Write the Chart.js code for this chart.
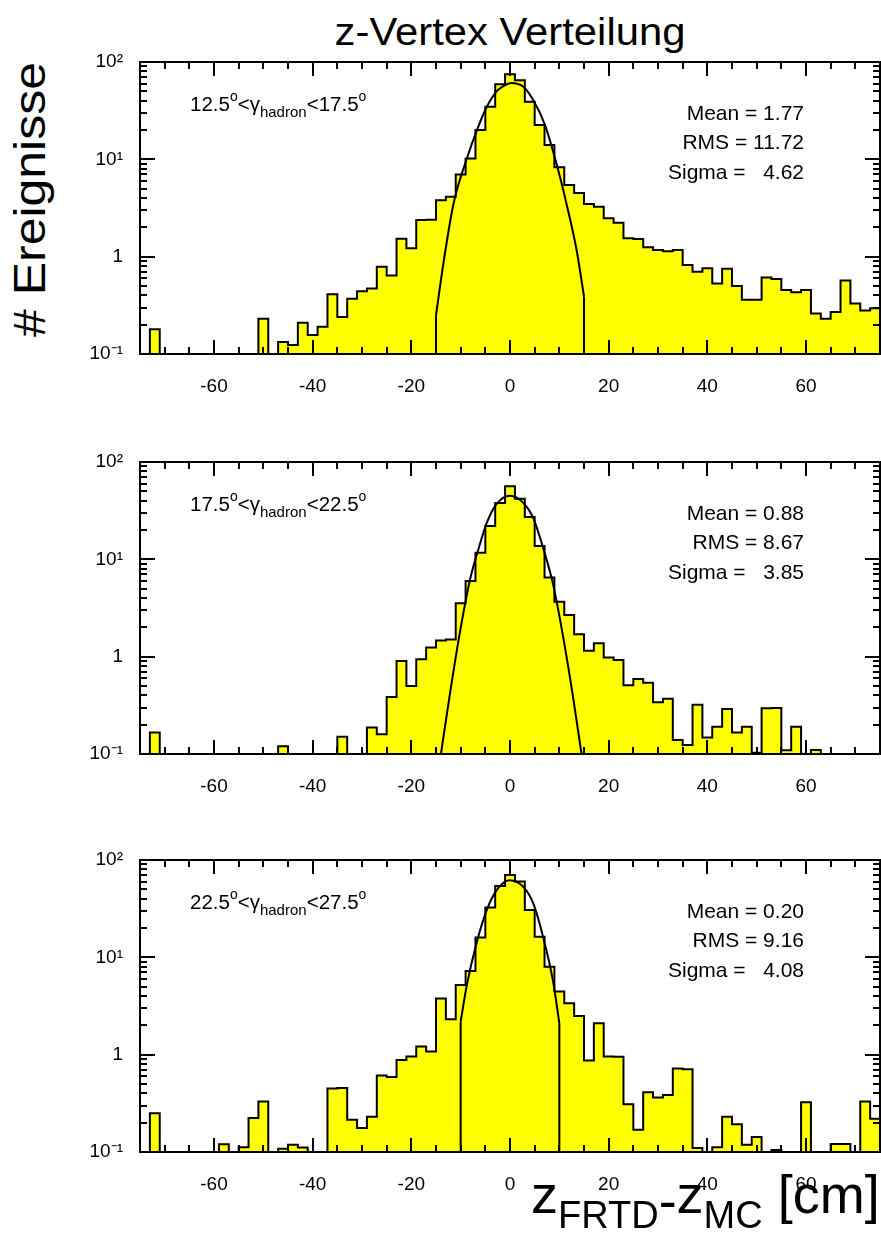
<!DOCTYPE html>
<html>
<head>
<meta charset="utf-8">
<script src="https://cdn.jsdelivr.net/npm/chart.js@4.4.1/dist/chart.umd.min.js"></script>
<style>
  body { margin: 0; width: 881px; height: 1240px; position: relative; overflow: hidden; background: #fff; color: #000;
         font-family: "Liberation Sans", Arial, Helvetica, sans-serif; }
  .panel { position: absolute; left: 0; width: 881px; height: 400px; }
  .panel canvas { position: absolute; left: 0; top: 0; }
  .note { position: absolute; left: 190px; top: 94.3px; font-size: 20.5px; line-height: 20.5px; white-space: nowrap; }
  .stats { position: absolute; right: 77px; top: 98px; font-size: 21px; line-height: 29.3px; text-align: right; white-space: pre; }
  .sp { position: relative; top: -10px; font-size: 14px; }
  .sb2 { position: relative; top: 6px; font-size: 15px; }
  #title { position: absolute; left: 310px; top: 12.8px; width: 400px; font-size: 38px; line-height: 38px; text-align: center;
           transform: scaleX(1.1); white-space: nowrap; }
  #ytitle { position: absolute; left: -170.6px; top: 176.5px; width: 400px; height: 45px; font-size: 45px; line-height: 45px;
            text-align: center; white-space: nowrap; transform: rotate(-90deg) scaleX(1.11); }
  #xtitle { position: absolute; left: 531px; top: 1167.3px; font-size: 54px; line-height: 54px; white-space: pre; }
  #xtitle .sb { position: relative; top: 15px; font-size: 38px; }
  #xtitle .dash { position: relative; top: 6px; }
</style>
</head>
<body>
<div id="title">z-Vertex Verteilung</div>
<div id="ytitle"># Ereignisse</div>

<div class="panel" style="top:0px">
  <canvas id="c1" width="881" height="400"></canvas>
  <div class="note">12.5<span class="sp">o</span>&lt;γ<span class="sb2">hadron</span>&lt;17.5<span class="sp">o</span></div>
  <div class="stats">Mean = 1.77
RMS = 11.72
Sigma =   4.62</div>
</div>

<div class="panel" style="top:400px">
  <canvas id="c2" width="881" height="400"></canvas>
  <div class="note">17.5<span class="sp">o</span>&lt;γ<span class="sb2">hadron</span>&lt;22.5<span class="sp">o</span></div>
  <div class="stats">Mean = 0.88
RMS = 8.67
Sigma =   3.85</div>
</div>

<div class="panel" style="top:798px">
  <canvas id="c3" width="881" height="400"></canvas>
  <div class="note">22.5<span class="sp">o</span>&lt;γ<span class="sb2">hadron</span>&lt;27.5<span class="sp">o</span></div>
  <div class="stats">Mean = 0.20
RMS = 9.16
Sigma =   4.08</div>
</div>

<div id="xtitle">z<span class="sb">FRTD</span><span class="dash">-</span>z<span class="sb">MC</span> [cm]</div>

<script>
// Histogramm: 75 Bins zu je 2 cm, von -75 bis 75
const X_MIN = -75;
const X_MAX = 75;
const BIN_W = 2;
const Y_MIN = 0.1;
const Y_MAX = 100;

// Achsenbeschriftungen
const X_TICKS = [-60, -40, -20, 0, 20, 40, 60];
const Y_TICKS = [0.1, 1, 10, 100];
const Y_TICK_LABELS = ['10⁻¹', '1', '10¹', '10²'];

// 12.5° < gamma < 17.5°
const H1 = [
  0, 0.18, 0, 0, 0, 0, 0, 0, 0, 0,
  0, 0, 0.23, 0, 0.133, 0.124, 0.21, 0.157, 0.19, 0.41,
  0.24, 0.37, 0.44, 0.47, 0.79, 0.64, 1.53, 1.22, 2.38, 2.4,
  3.8, 4.13, 7.0, 10.2, 20, 34.7, 59, 75, 65, 39,
  22.5, 14, 8.3, 5.45, 4.5, 3.47, 3.26, 2.48, 2.23, 1.55,
  1.52, 1.25, 1.17, 1.14, 1.17, 0.82, 0.70, 0.76, 0.53, 0.75,
  0.50, 0.36, 0.36, 0.61, 0.59, 0.455, 0.43, 0.455, 0.26, 0.23,
  0.27, 0.57, 0.33, 0.28, 0.295
];
const FIT1_X = [-15, -13.5, -11.45, -8.75, -6.7, -4.7, -2.7, -1.35, 0.3, 2.7, 4.7, 7.1, 9.4, 11.45, 13.5, 15];
const FIT1_Y = [0.25, 0.855, 3.5, 10.2, 20, 34.7, 50, 56.6, 61, 55.6, 40.6, 22.5, 9.1, 3.5, 1.17, 0.39];

// 17.5° < gamma < 22.5°
const H2 = [
  0, 0.166, 0, 0, 0, 0, 0, 0, 0, 0,
  0, 0, 0, 0, 0.12, 0, 0, 0, 0, 0,
  0.15, 0, 0, 0.187, 0.16, 0.385, 0.90, 0.50, 0.94, 1.24,
  1.47, 1.5, 3.53, 6.0, 11.7, 22, 38, 56.5, 41.9, 27.2,
  13.7, 6.5, 3.67, 2.68, 1.70, 1.15, 1.37, 0.98, 0.925, 0.51,
  0.59, 0.54, 0.34, 0.37, 0.139, 0.124, 0.32, 0.148, 0.19, 0.29,
  0.166, 0.19, 0.103, 0.295, 0.297, 0.109, 0.19, 0, 0.11, 0,
  0, 0, 0, 0, 0
];
const FIT2_X = [-14.0, -12.1, -10.1, -8.1, -6.4, -4.7, -2.7, 0, 2.7, 4.7, 6.7, 8.75, 10.8, 12.8, 14.5];
const FIT2_Y = [0.1, 0.44, 1.84, 6.2, 12.7, 23.8, 37.2, 45, 38, 26.7, 13.2, 5.5, 1.57, 0.38, 0.1];

// 22.5° < gamma < 27.5°
const H3 = [
  0, 0.25, 0, 0, 0, 0, 0, 0, 0.12, 0,
  0.112, 0.223, 0.33, 0, 0.108, 0.119, 0.111, 0, 0, 0.45,
  0.455, 0.214, 0.176, 0.23, 0.61, 0.59, 0.88, 0.96, 1.21, 1.08,
  3.78, 2.31, 5.2, 7.25, 16, 32.5, 54, 70, 60, 30.7,
  16.3, 8.0, 4.45, 3.38, 2.5, 0.87, 2.1, 0.96, 0.95, 0.31,
  0.169, 0.41, 0.363, 0.385, 0.72, 0.71, 0.11, 0, 0.112, 0.23,
  0.193, 0.119, 0.143, 0, 0.105, 0, 0, 0.325, 0, 0,
  0.121, 0.121, 0, 0.33, 0.22
];
const FIT3_X = [-10, -8.75, -6.7, -4.7, -2.7, -0.1, 2.7, 4.7, 6.7, 8.75, 10];
const FIT3_Y = [2.19, 5.2, 14.5, 30.7, 49, 62, 53, 36, 16.3, 5.6, 2.1];

const FONT = '"Liberation Sans", Arial, Helvetica, sans-serif';

// Rahmen mit nach innen zeigenden Ticks (wie ROOT)
const rahmen = {
  id: 'rahmen',
  afterDatasetsDraw(chart) {
    const { ctx, chartArea: a, scales } = chart;
    const x = scales.x, y = scales.y;
    ctx.save();
    ctx.strokeStyle = '#000';
    ctx.lineWidth = 2;
    ctx.beginPath();
    // x-Ticks alle 5 cm, lange bei den Beschriftungen
    for (let v = X_MIN + 5; v < X_MAX; v += 5) {
      const px = Math.round(x.getPixelForValue(v));
      const len = X_TICKS.includes(v) ? 14 : 7;
      ctx.moveTo(px, a.bottom); ctx.lineTo(px, a.bottom - len);
      ctx.moveTo(px, a.top); ctx.lineTo(px, a.top + len);
    }
    // log y-Ticks
    for (let d = Y_MIN; d < Y_MAX; d *= 10) {
      for (let k = 1; k < 10; k++) {
        const v = d * k;
        if (v <= Y_MIN * 1.0001) continue;
        const py = Math.round(y.getPixelForValue(v));
        const len = k === 1 ? 15 : 7;
        ctx.moveTo(a.left, py); ctx.lineTo(a.left + len, py);
        ctx.moveTo(a.right, py); ctx.lineTo(a.right - len, py);
      }
    }
    const pyTop = Math.round(y.getPixelForValue(Y_MAX));
    ctx.moveTo(a.left, pyTop); ctx.lineTo(a.left + 15, pyTop);
    ctx.moveTo(a.right, pyTop); ctx.lineTo(a.right - 15, pyTop);
    ctx.stroke();
    ctx.strokeRect(a.left, a.top, a.right - a.left, a.bottom - a.top);
    ctx.restore();
  }
};

function histPunkte(werte) {
  // Stufen: jeder Punkt liegt auf der linken Bin-Kante, leere Bins auf dem Achsenminimum
  const pts = werte.map((v, i) => ({ x: X_MIN + i * BIN_W, y: v > 0 ? v : Y_MIN }));
  pts.push({ x: X_MAX, y: pts[pts.length - 1].y });
  pts.push({ x: X_MAX, y: Y_MIN });
  return pts;
}

function zeichnePanel(id, werte, fitX, fitY) {
  const ctx = document.getElementById(id).getContext('2d');
  const kurve = fitX.map((x, i) => ({ x: x, y: fitY[i] }));
  const n = fitX.length - 1;
  const linie = { type: 'line', borderColor: '#000', borderWidth: 2, pointRadius: 0, fill: false };

  new Chart(ctx, {
    type: 'line',
    data: {
      datasets: [
        Object.assign({ data: kurve, cubicInterpolationMode: 'monotone' }, linie),
        Object.assign({ data: [{ x: fitX[0], y: Y_MIN }, { x: fitX[0], y: fitY[0] }] }, linie),
        Object.assign({ data: [{ x: fitX[n], y: fitY[n] }, { x: fitX[n], y: Y_MIN }] }, linie),
        {
          data: histPunkte(werte),
          stepped: true,
          fill: 'start',
          backgroundColor: '#ffff00',
          borderColor: '#000',
          borderWidth: 2,
          pointRadius: 0
        }
      ]
    },
    options: {
      responsive: false,
      animation: false,
      devicePixelRatio: 1,
      layout: { padding: { top: 62, right: 1, bottom: 0, left: 0 } },
      plugins: { legend: { display: false }, tooltip: { enabled: false } },
      scales: {
        x: {
          type: 'linear',
          min: X_MIN,
          max: X_MAX,
          grid: { display: false },
          border: { display: false },
          afterBuildTicks: s => { s.ticks = X_TICKS.map(v => ({ value: v })); },
          afterFit: s => { s.height = 46; },
          ticks: { color: '#000', font: { family: FONT, size: 19 }, padding: 13, maxRotation: 0, autoSkip: false }
        },
        y: {
          type: 'logarithmic',
          min: Y_MIN,
          max: Y_MAX,
          grid: { display: false },
          border: { display: false },
          afterBuildTicks: s => { s.ticks = Y_TICKS.map(v => ({ value: v })); },
          afterFit: s => { s.width = 140; },
          ticks: {
            color: '#000',
            font: { family: FONT, size: 19 },
            padding: 9,
            autoSkip: false,
            callback: (v, i) => Y_TICK_LABELS[i]
          }
        }
      }
    },
    plugins: [rahmen]
  });
}

zeichnePanel('c1', H1, FIT1_X, FIT1_Y);
zeichnePanel('c2', H2, FIT2_X, FIT2_Y);
zeichnePanel('c3', H3, FIT3_X, FIT3_Y);
</script>
</body>
</html>
